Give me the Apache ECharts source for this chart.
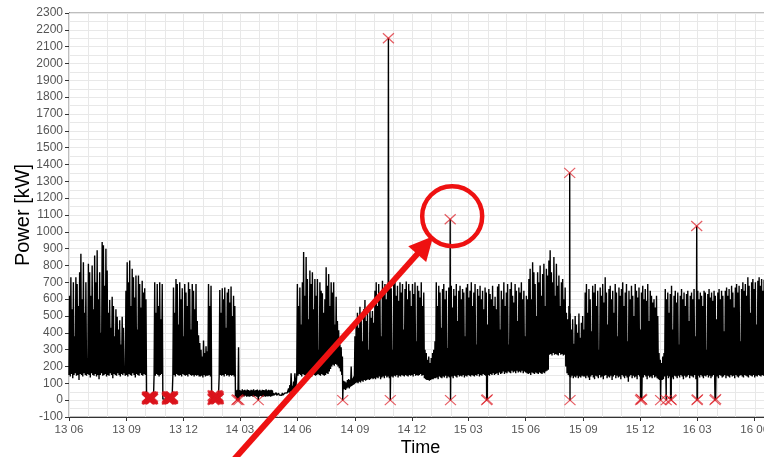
<!DOCTYPE html>
<html>
<head>
<meta charset="utf-8">
<script src="https://cdn.jsdelivr.net/npm/echarts@6/dist/echarts.min.js"></script>
<style>
  html, body { margin: 0; padding: 0; background: #fff; }
  #chart { width: 764px; height: 457px; }
</style>
</head>
<body>
<div id="chart"></div>
<script>
// Axis tick labels ("YY MM"), one every three months
const tickLabels = ['13 06', '13 09', '13 12', '14 03', '14 06', '14 09', '14 12',
  '15 03', '15 06', '15 09', '15 12', '16 03', '16 06'];

// Power readings in kW. Each block starts on a date and holds one night-time low
// and one day-time high for every two days.
const blockStart = ['2013-06-01', '2013-10-03', '2013-10-15', '2013-10-29', '2013-11-14',
  '2013-12-28', '2014-01-09', '2014-01-15', '2014-01-27', '2014-02-22', '2014-04-23',
  '2014-05-17', '2014-05-31', '2014-08-13', '2014-09-04', '2014-12-21', '2015-01-08',
  '2015-04-12', '2015-06-05', '2015-07-09', '2015-08-08', '2015-09-03', '2015-12-30',
  '2016-01-09'];

const blockHigh = [
  [620,730,540,700,380,730,690,560,760,870, 600,820,520,700,250,810,760,620,800,540,
   860,700,890,600,760,400,940,920,680,900, 770,520,595,430,615,560,380,540,495,420,
   475,330,495,430,180,650,820,700,830,560, 780,730,610,740,420,740,690,550,710,640,
   665,600],
  [12,8,15,10,14,10],
  [700,520,690,560,700,480,690],
  [12,10,15,8,14,10,12,10],
  [670,520,720,690,450,700,600,665,380,690, 640,560,700,660,420,690,650,540,690,470,
   385,340],
  [300,260,355,280,320,290],
  [690,560,680],
  [15,10,18,8,12,10],
  [655,520,665,600,670,430,640,660,580,675, 500,620,560],
  [58,62,315,60,56,64,58,61,57,63, 60,55,62,59,64,57,60,63,58,61, 56,62,60,58,64,57,61,59,62,58],
  [42,40,44,38,42,41,39,43,40,42,45,44],
  [70,90,160,85,110,160,95],
  [690,560,670,450,700,880,620,850,720,480, 770,690,760,540,720,620,720,300,700,650,
   635,520,600,790,680,750,560,700,640,700, 450,615,470,415,330,315,260],
  [115,110,105,120,125,120,200,130,140,380,475],
  [520,430,555,480,350,540,595,470,520,300,555,490,530,460,
   650,700,560,690,620,380,710,650,690,600, 680,540,700,665,300,690,710,620,680,590,
   700,640,690,420,660,705,600,690,650,560, 690,630,700,350,680,650,610,700,560,640],
  [300,280,240,260,220,250,280,300,350],
  [700,560,680,640,430,660,690,600,650,310, 670,640,680,550,660,620,690,470,650,680,
   600,660,640,380,670,690,610,650,700,560, 640,690,330,660,620,680,600,650,540,670,
   640,450,660,630,600,680,560],
  [615,540,675,690,420,650,600,700,560,640, 690,330,660,700,620,580,690,650,470,670,
   640,700,600,650,380,620,600],
  [720,780,600,820,760,690,500,760,700,800, 620,750,810,560,780,740,830],
  [890,760,700,850,620,810,680,740,560,700, 720,600,670,520,480],
  [560,515,420,480,335,500,450,400,515,370, 460,500,420],
  [640,690,520,660,600,410,680,640,690,560, 650,300,670,620,690,580,730,640,450,660,
   680,600,650,520,690,640,380,670,620,660, 700,560,640,690,350,650,600,680,620,500,
   690,650,610,670,420,640,680,600,660,590, 690,470,650,620,580,600,550,620,500],
  [280,240,220,260,280],
  [660,600,640,520,630,680,420,620,650,580, 640,330,620,660,600,640,560,630,650,470,
   620,640,600,660,380,630,650,600,640,620, 560,650,640,300,630,660,610,640,590,650,
   620,480,640,660,600,650,620,410,650,670, 620,660,600,680,640,550,670,690,640,680,
   350,660,700,650,690,620,730,680,520,700, 720,660,700,450,710,730,680,720,650,715]
];

const blockLow = [
  [150,140,155,130,150,160,145,150,120,155, 150,140,160,150,145,155,150,135,160,150,
   145,155,140,150,125,150,160,145,150,155, 140,150,145,160,150,130,155,150,145,160,
   150,140,155,150,160,145,150,140,155,150, 145,160,150,135,155,150,145,160,150,145,
   155,150],
  [8,5,10,6,9,5],
  [150,145,155,150,140,150,155],
  [6,5,8,5,9,6,7,5],
  [145,150,140,155,150,145,150,140,155,150, 145,150,140,155,150,145,150,140,150,145,
   150,140],
  [140,145,135,150,140,145],
  [145,150,140],
  [6,4,8,5,6,5],
  [140,150,145,150,140,155,145,150,140,150, 145,150,140],
  [22,20,25,21,24,20,23,22,26,20, 24,21,23,25,20,22,24,21,23,20, 25,22,21,24,20,23,22,25,21,24],
  [28,30,27,29,28,30,27,29,30,28,32,35],
  [40,45,50,48,55,60,65],
  [150,145,155,150,140,155,150,145,150,155, 145,150,140,155,150,145,150,155,150,145,
   155,150,145,150,160,155,170,185,200,210, 205,215,210,200,190,170,150],
  [70,65,60,70,75,70,80,85,90,95,100],
  [105,100,110,105,115,110,120,115,120,125,120,125,130,125,
   130,125,135,130,140,125,135,140,130,145, 135,140,130,145,140,135,145,140,150,135,
   145,140,150,145,140,150,145,140,150,145, 150,140,155,145,150,145,150,155,145,150],
  [130,125,120,120,115,120,125,125,130],
  [130,135,125,140,135,130,140,135,145,130, 140,135,145,140,130,145,140,135,150,140,
   145,140,150,135,145,140,150,145,140,150, 145,140,150,145,155,140,150,145,155,150,
   145,155,150,145,155,150,160],
  [150,155,160,150,165,155,160,170,155,165, 160,170,165,160,175,165,170,160,175,165,
   170,165,175,160,170,165,160],
  [155,160,150,165,160,155,165,160,155,165, 160,155,165,160,170,175,180],
  [270,275,265,280,270,275,270,265,280,270, 275,265,270,200,160],
  [150,140,135,145,130,140,135,145,130,140, 135,145,140],
  [140,130,145,135,120,140,150,135,125,145, 140,130,150,135,140,125,145,150,130,140,
   135,145,120,140,150,130,145,135,140,125, 150,140,130,145,135,110,140,150,130,145,
   135,140,125,150,140,130,145,135,150,140, 125,145,135,140,130,150,135,140,130],
  [125,120,115,120,125],
  [140,135,145,130,140,150,135,125,145,140, 130,145,135,150,140,125,145,135,140,150,
   130,145,140,135,150,125,140,145,135,150, 140,130,145,140,150,135,145,130,140,150,
   135,145,140,130,150,145,135,140,150,130, 145,140,135,150,140,145,130,150,140,135,
   145,150,140,135,150,145,140,135,150,145, 140,150,135,145,140,150,145,140,150,145]
];

// Days of meter drop-out: four flagged readings per day (00, 06, 12, 18 h)
const dropoutDays = [
  '2013-10-04', '2013-10-05', '2013-10-06', '2013-10-07', '2013-10-08', '2013-10-09', '2013-10-10', '2013-10-11', '2013-10-12',
  '2013-11-05', '2013-11-06', '2013-11-07', '2013-11-08', '2013-11-09', '2013-11-10', '2013-11-11', '2013-11-12', '2013-11-13',
  '2014-01-17', '2014-01-18', '2014-01-19', '2014-01-20', '2014-01-21', '2014-01-22', '2014-01-23', '2014-01-24', '2014-01-25'
];
const dropoutReadings = [
  [10, 18, 6, 14], [20, 8, 16, 4], [12, 22, 6, 15], [18, 5, 12, 20], [8, 16, 10, 22],
  [14, 6, 20, 10], [22, 12, 4, 16], [6, 18, 12, 8], [15, 10, 20, 6],
  [12, 5, 20, 8], [16, 4, 18, 10], [22, 6, 14, 24], [8, 18, 5, 12], [20, 10, 15, 6],
  [4, 16, 22, 12], [18, 8, 10, 20], [6, 14, 24, 10], [12, 20, 8, 16],
  [5, 25, 10, 30], [0, 18, 8, 22], [4, 12, 20, 6], [15, 28, 10, 22], [5, 18, 26, 12],
  [22, 8, 14, 30], [10, 24, 4, 18], [26, 12, 20, 8], [14, 6, 22, 10]
];

// Other flagged readings (outliers and single drop-outs), marked with a cross
const eventTimes = [
  '2014-02-24', '2014-02-25', '2014-02-27',
  '2014-03-30', '2014-08-12',
  '2014-10-24', '2014-10-27',
  '2015-01-31 06', '2015-01-31 18',
  '2015-03-30', '2015-03-31',
  '2015-08-10 06', '2015-08-10 18',
  '2015-12-01', '2015-12-02', '2015-12-03',
  '2016-01-02', '2016-01-11', '2016-01-18', '2016-01-19',
  '2016-02-29 06', '2016-02-29 18', '2016-03-01',
  '2016-03-29', '2016-03-30'
];
const eventValues = [
  0, 5, 0,
  0, 0,
  2150, 0,
  1075, 0,
  0, 5,
  1350, 0,
  0, 8, 3,
  0, 0, 5, 0,
  1035, 0, 5,
  0, 6
];

function dayStamp(dateStr, addDays, hour) {
  const [y, m, d] = dateStr.split('-').map(Number);
  return new Date(y, m - 1, d + addDays, hour || 0).getTime();
}
function labelStamp(label) {
  const [yy, mm] = label.split(' ').map(Number);
  return new Date(2000 + yy, mm - 1, 1).getTime();
}

const loadPoints = [];
blockStart.forEach((start, b) => {
  blockLow[b].forEach((low, i) => {
    loadPoints.push([dayStamp(start, 2 * i, 0), low]);
    loadPoints.push([dayStamp(start, 2 * i + 1, 0), blockHigh[b][i]]);
  });
});
const flagPoints = eventTimes.map((s, i) => {
  const [d, h] = s.split(' ');
  return [dayStamp(d, 0, h ? Number(h) : 12), eventValues[i]];
});
dropoutDays.forEach((day, i) => {
  dropoutReadings[i].forEach((v, j) => flagPoints.push([dayStamp(day, 0, j * 6), v]));
});
flagPoints.sort((a, b) => a[0] - b[0]);
const linePoints = loadPoints.concat(flagPoints).sort((a, b) => a[0] - b[0]);

const tickStamps = tickLabels.map(labelStamp);
const labelByStamp = {};
tickLabels.forEach((l, i) => { labelByStamp[tickStamps[i]] = l; });

const xMin = dayStamp('2013-06-01', 0, 0);
const xMax = dayStamp('2016-06-19', 0, 0);

// month boundaries for the light vertical grid
const monthLines = [];
for (let k = 0; ; k++) {
  const t = new Date(2013, 5 + k, 1).getTime();
  if (t > xMax) break;
  monthLines.push([t, 0]);
}

const chart = echarts.init(document.getElementById('chart'), null, { renderer: 'canvas' });
const GRID_COLOR = '#e8e8e8';
const FONT = '"Liberation Sans", Arial, sans-serif';

chart.setOption({
  animation: false,
  backgroundColor: '#fff',
  grid: {
    left: 69, right: -2, top: 13, bottom: 40,
    outerBoundsMode: 'none',
    containLabel: false,
    show: true, borderColor: '#7d7d7d', borderWidth: 1, backgroundColor: 'transparent'
  },
  xAxis: {
    type: 'value',
    min: xMin, max: xMax,
    name: 'Time', nameLocation: 'middle', nameGap: 22, nameMoveOverlap: false,
    nameTextStyle: { color: '#000', fontSize: 18, fontFamily: FONT, padding: [0, 0, 0, 6] },
    axisLine: { show: true, onZero: false, lineStyle: { color: '#333', width: 1 } },
    axisTick: { show: true, length: 4, inside: false, customValues: tickStamps, lineStyle: { color: '#333' } },
    axisLabel: {
      customValues: tickStamps, margin: 7, color: '#555', fontSize: 11.5, fontFamily: FONT,
      formatter: v => labelByStamp[v] || ''
    },
    splitLine: { show: false }
  },
  yAxis: {
    type: 'value',
    min: -100, max: 2300, interval: 100,
    name: 'Power [kW]', nameLocation: 'middle', nameGap: 36, nameRotate: 90, nameMoveOverlap: false,
    nameTextStyle: { color: '#000', fontSize: 20, fontFamily: FONT },
    axisLine: { show: true, onZero: false, lineStyle: { color: '#333', width: 1 } },
    axisTick: { show: true, length: 4, inside: false, lineStyle: { color: '#333' } },
    axisLabel: { margin: 6, color: '#555', fontSize: 12, fontFamily: FONT, formatter: v => String(v) },
    splitLine: { show: true, lineStyle: { color: GRID_COLOR, width: 1 } },
    minorTick: { show: false, splitNumber: 2 },
    minorSplitLine: { show: true, lineStyle: { color: GRID_COLOR, width: 1 } }
  },
  series: [
    {
      type: 'custom',
      z: 1,
      silent: true,
      data: monthLines,
      renderItem: (params, api) => {
        const x = Math.round(api.coord([api.value(0), 0])[0]) + 0.5;
        const cs = params.coordSys;
        return {
          type: 'line',
          shape: { x1: x, y1: cs.y, x2: x, y2: cs.y + cs.height },
          style: { stroke: GRID_COLOR, lineWidth: 1 }
        };
      }
    },
    {
      type: 'line',
      z: 2,
      data: linePoints,
      showSymbol: false,
      symbol: 'none',
      sampling: false,
      lineStyle: { color: '#000', width: 1.4 },
      silent: true
    },
    {
      type: 'custom',
      z: 3,
      silent: true,
      data: flagPoints,
      renderItem: (params, api) => {
        const p = api.coord([api.value(0), api.value(1)]);
        const hx = 5.5, hy = 5;
        const style = { stroke: 'rgba(220, 22, 30, 0.7)', lineWidth: 1.2 };
        return {
          type: 'group',
          children: [
            { type: 'line', shape: { x1: p[0] - hx, y1: p[1] - hy, x2: p[0] + hx, y2: p[1] + hy }, style },
            { type: 'line', shape: { x1: p[0] - hx, y1: p[1] + hy, x2: p[0] + hx, y2: p[1] - hy }, style }
          ]
        };
      }
    }
  ]
});

// Call-out: ring around the 1075 kW reading with an arrow pointing to it
const hit = flagPoints.find(p => p[1] === 1075);
const c = chart.convertToPixel({ gridIndex: 0 }, hit);
const cx = c[0] + 2, cy = c[1] - 3;
const tip = [cx - 19, cy + 20];
const tail = [cx - 226, cy + 252];
const dx = tip[0] - tail[0], dy = tip[1] - tail[1];
const len = Math.hypot(dx, dy);
const ux = dx / len, uy = dy / len;
const headLen = 24, headHalf = 12;
const base = [tip[0] - ux * headLen, tip[1] - uy * headLen];
chart.setOption({
  graphic: [
    {
      type: 'circle', z: 100, silent: true,
      shape: { cx: cx, cy: cy, r: 30 },
      style: { fill: 'none', stroke: '#ee1111', lineWidth: 4.5 }
    },
    {
      type: 'line', z: 100, silent: true,
      shape: { x1: tail[0], y1: tail[1], x2: base[0] + ux * 2, y2: base[1] + uy * 2 },
      style: { stroke: '#ee1111', lineWidth: 6 }
    },
    {
      type: 'polygon', z: 100, silent: true,
      shape: { points: [tip, [base[0] - uy * headHalf, base[1] + ux * headHalf], [base[0] + uy * headHalf, base[1] - ux * headHalf]] },
      style: { fill: '#ee1111' }
    }
  ]
});
</script>
</body>
</html>
